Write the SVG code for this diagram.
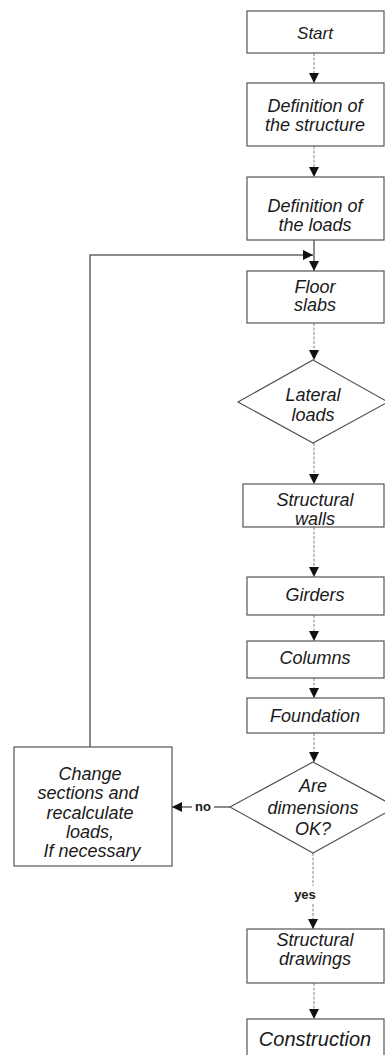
<svg xmlns="http://www.w3.org/2000/svg" width="385" height="1055" viewBox="0 0 385 1055">
<style>
.box{fill:#fff;stroke:#555;stroke-width:1.2}
.t{font-family:"Liberation Sans",Arial,sans-serif;font-style:italic;font-size:18px;fill:#1a1a1a;text-anchor:middle}
.lbl{font-family:"Liberation Sans",Arial,sans-serif;font-weight:bold;font-size:13px;fill:#1a1a1a;text-anchor:middle}
.c{fill:none;stroke:#999;stroke-width:1.2;stroke-dasharray:3,1.5}
.fb{fill:none;stroke:#666;stroke-width:1.5}
</style>
<defs>
<marker id="ah" viewBox="0 0 10 10" refX="10" refY="5" markerWidth="10" markerHeight="11" markerUnits="userSpaceOnUse" orient="auto">
<path d="M0,0 L10,5 L0,10 Z" fill="#111"/>
</marker>
</defs>
<g id="connectors">
<line class="c" x1="314" y1="53" x2="314" y2="83" marker-end="url(#ah)"/>
<line class="c" x1="314" y1="146" x2="314" y2="177" marker-end="url(#ah)"/>
<line class="fb" x1="314" y1="240" x2="314" y2="271" marker-end="url(#ah)"/>
<polyline class="fb" points="90,747 90,255 313,255" marker-end="url(#ah)"/>
<line class="c" x1="314" y1="323" x2="314" y2="360" marker-end="url(#ah)"/>
<line class="c" x1="314" y1="443" x2="314" y2="484" marker-end="url(#ah)"/>
<line class="c" x1="314" y1="527" x2="314" y2="577" marker-end="url(#ah)"/>
<line class="c" x1="314" y1="615" x2="314" y2="641" marker-end="url(#ah)"/>
<line class="c" x1="314" y1="678" x2="314" y2="698" marker-end="url(#ah)"/>
<line class="c" x1="314" y1="733" x2="314" y2="762" marker-end="url(#ah)"/>
<line class="fb" x1="230" y1="807" x2="214" y2="807"/>
<line class="fb" x1="192" y1="807" x2="172" y2="807" marker-end="url(#ah)"/>
<text class="lbl" x="203" y="811">no</text>
<line class="c" x1="313" y1="853" x2="313" y2="886"/>
<line class="c" x1="313" y1="904" x2="313" y2="929" marker-end="url(#ah)"/>
<text class="lbl" x="305" y="899">yes</text>
<line class="c" x1="314" y1="983" x2="314" y2="1019" marker-end="url(#ah)"/>
</g>
<g id="start"><rect class="box" x="247" y="11" width="137" height="42"/><text class="t" x="315" y="39" style="font-size:17px">Start</text></g>
<g id="def-structure"><rect class="box" x="247" y="83" width="137" height="63"/><text class="t" x="315" y="112">Definition of</text><text class="t" x="315" y="131">the structure</text></g>
<g id="def-loads"><rect class="box" x="247" y="177" width="137" height="63"/><text class="t" x="315" y="212">Definition of</text><text class="t" x="315" y="231">the loads</text></g>
<g id="floor-slabs"><rect class="box" x="247" y="271" width="137" height="52"/><text class="t" x="315" y="293">Floor</text><text class="t" x="315" y="311">slabs</text></g>
<g id="lateral-loads"><polygon class="box" points="313,360 388,402 313,443 238,402"/><text class="t" x="313" y="401">Lateral</text><text class="t" x="313" y="421">loads</text></g>
<g id="structural-walls"><rect class="box" x="243" y="484" width="141" height="43"/><text class="t" x="315" y="506">Structural</text><text class="t" x="315" y="525">walls</text></g>
<g id="girders"><rect class="box" x="247" y="577" width="137" height="38"/><text class="t" x="315" y="601">Girders</text></g>
<g id="columns"><rect class="box" x="247" y="641" width="137" height="37"/><text class="t" x="315" y="664">Columns</text></g>
<g id="foundation"><rect class="box" x="247" y="698" width="137" height="35"/><text class="t" x="315" y="722">Foundation</text></g>
<g id="dimensions-ok"><polygon class="box" points="313,762 396,807 313,853 230,807"/><text class="t" x="313" y="792">Are</text><text class="t" x="313" y="814">dimensions</text><text class="t" x="313" y="835">OK?</text></g>
<g id="change-sections"><rect class="box" x="14" y="747" width="158" height="119"/><text class="t" x="90" y="780">Change</text><text class="t" x="88" y="799">sections and</text><text class="t" x="90" y="819">recalculate</text><text class="t" x="90" y="838">loads,</text><text class="t" x="92" y="857">If necessary</text></g>
<g id="structural-drawings"><rect class="box" x="247" y="929" width="137" height="54"/><text class="t" x="315" y="946">Structural</text><text class="t" x="315" y="965">drawings</text></g>
<g id="construction"><rect class="box" x="247" y="1019" width="137" height="40"/><text class="t" x="315" y="1046" style="font-size:20px">Construction</text></g>
</svg>
